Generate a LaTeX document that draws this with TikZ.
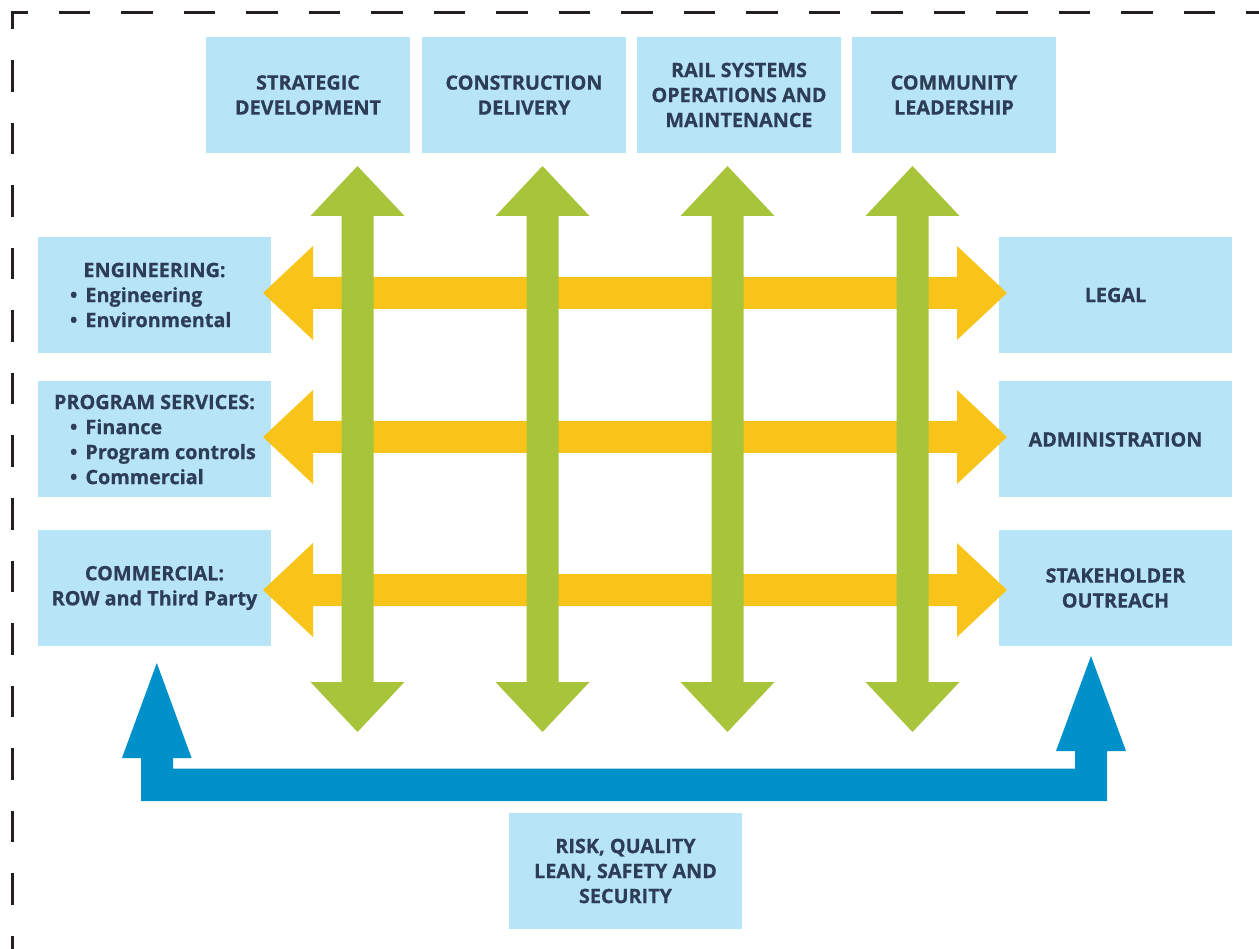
\documentclass[tikz,border=0pt]{standalone}
\usepackage{fontspec}
\setmainfont{Open Sans}[BoldFeatures={FakeBold=0.6}]
\definecolor{boxblue}{HTML}{B8E4F8}
\definecolor{txt}{HTML}{2D3D56}
\definecolor{grn}{HTML}{A8C43A}
\definecolor{ylw}{HTML}{F9C41A}
\definecolor{blu}{HTML}{0091CB}
\definecolor{frame}{HTML}{231F20}
\newcommand{\vdarrow}[3]{%
  \fill[grn] (#1,#2) -- (#1+47,#2+50) -- (#1+16,#2+50) -- (#1+16,#3-50) -- (#1+47,#3-50) -- (#1,#3)
    -- (#1-47,#3-50) -- (#1-16,#3-50) -- (#1-16,#2+50) -- (#1-47,#2+50) -- cycle;}
\newcommand{\hdarrow}[3]{%
  \fill[ylw] (#1,#3) -- (#1+50,#3-47) -- (#1+50,#3-16) -- (#2-50,#3-16) -- (#2-50,#3-47) -- (#2,#3)
    -- (#2-50,#3+47) -- (#2-50,#3+16) -- (#1+50,#3+16) -- (#1+50,#3+47) -- cycle;}
\newcommand{\bl}[1]{\makebox[233pt][l]{\hspace{32pt}\textbullet\hspace{8pt}#1}}
\begin{document}
\begin{tikzpicture}[x=1pt,y=-1pt,
  box/.style={fill=boxblue, draw=none, inner sep=0pt, text=txt, align=center,
    font=\bfseries\fontsize{19.8}{25}\selectfont},
  topbox/.style={box, minimum width=204pt, minimum height=116pt},
  sidebox/.style={box, minimum width=233pt, minimum height=116pt},
  framedash/.style={draw=frame, line width=3pt, dash pattern=on 31.5pt off 31pt, dash phase=15pt}]
\useasboundingbox (0,0) rectangle (1259,949);
% frame
\draw[framedash] (11,13) -- (1300,13);
\draw[framedash] (12,13) -- (12,990);
% top boxes
\node[topbox] (sd) at (308,95) {STRATEGIC\\DEVELOPMENT};
\node[topbox] (cd) at (524,95) {CONSTRUCTION\\DELIVERY};
\node[topbox] (rs) at (739,95) {RAIL SYSTEMS\\OPERATIONS AND\\MAINTENANCE};
\node[topbox] (cl) at (954,95) {COMMUNITY\\LEADERSHIP};
% left boxes
\node[sidebox] (eng) at (154.5,295) {ENGINEERING:\\\bl{Engineering}\\\bl{Environmental}};
\node[sidebox] (ps) at (154.5,439.5) {PROGRAM SERVICES:\\\bl{Finance}\\\bl{Program controls}\\\bl{Commercial}};
\node[sidebox] (com) at (154.5,588) {COMMERCIAL:\\ROW and Third Party};
% right boxes
\node[sidebox] (leg) at (1115.5,295) {LEGAL};
\node[sidebox] (adm) at (1115.5,439.5) {ADMINISTRATION};
\node[sidebox] (sto) at (1115.5,588) {STAKEHOLDER\\OUTREACH};
% bottom box
\node[sidebox] (rq) at (625.5,871) {RISK, QUALITY\\LEAN, SAFETY AND\\SECURITY};
% yellow arrows
\hdarrow{263}{1007}{293}
\hdarrow{263}{1007}{437}
\hdarrow{263}{1007}{590}
% green arrows
\vdarrow{357.5}{166}{732}
\vdarrow{542.5}{166}{732}
\vdarrow{727.5}{166}{732}
\vdarrow{912.5}{166}{732}
% blue arrow
\fill[blu] (141,801) -- (141,758) -- (122,758) -- (156.8,663) -- (191.6,758) -- (173,758) -- (173,768.5)
  -- (1075,768.5) -- (1075,751) -- (1056,751) -- (1091,656) -- (1126,751) -- (1107,751) -- (1107,801) -- cycle;
\end{tikzpicture}
\end{document}
